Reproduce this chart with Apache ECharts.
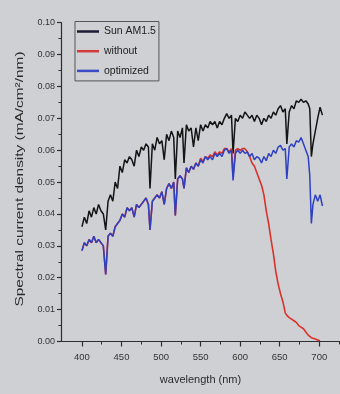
<!DOCTYPE html>
<html>
<head>
<meta charset="utf-8">
<script src="https://cdn.jsdelivr.net/npm/echarts@6/dist/echarts.min.js"></script>
<style>
html,body{margin:0;padding:0;background:#cfd0d3;}
#c{width:340px;height:394px;}
</style>
</head>
<body>
<div id="c"></div>
<script>
// wavelength (nm)
var wavelength = [400,403,406,409,412,415,418,421,424,427,430,433,436,439,442,445,448,451,454,457,460,463,466,469,472,475,478,481,484,486,489,492,495,498,501,504,507,510,513,516,518,521,524,527,529,532,535,538,541,544,547,550,553,556,559,562,565,568,571,574,577,580,583,586,589,591,594,597,600,603,606,609,612,615,618,621,624,627,630,633,636,639,642,645,648,651,654,657,659,662,665,668,671,674,677,680,683,686,688,690,692,695,698,701,704];

var sunAM15 = [0.036,0.039,0.037,0.041,0.039,0.042,0.040,0.043,0.041,0.040,0.035,0.044,0.046,0.044,0.050,0.048,0.055,0.053,0.057,0.056,0.058,0.057,0.055,0.060,0.058,0.061,0.060,0.062,0.061,0.048,0.062,0.060,0.064,0.062,0.063,0.057,0.065,0.063,0.066,0.064,0.051,0.066,0.064,0.067,0.056,0.068,0.066,0.067,0.061,0.067,0.063,0.068,0.066,0.068,0.067,0.069,0.068,0.069,0.067,0.069,0.068,0.070,0.0715,0.070,0.071,0.059,0.070,0.069,0.071,0.070,0.072,0.071,0.070,0.071,0.069,0.071,0.070,0.068,0.070,0.069,0.071,0.070,0.072,0.071,0.073,0.074,0.072,0.073,0.062,0.072,0.074,0.073,0.0755,0.075,0.076,0.075,0.0755,0.0745,0.073,0.058,0.062,0.066,0.070,0.0735,0.071];

var withoutVals = [0.0285,0.031,0.030,0.032,0.031,0.033,0.031,0.032,0.031,0.030,0.021,0.033,0.034,0.033,0.036,0.037,0.038,0.040,0.039,0.042,0.041,0.042,0.039,0.043,0.042,0.043,0.044,0.045,0.043,0.035,0.044,0.045,0.046,0.045,0.047,0.043,0.048,0.0495,0.048,0.050,0.0395,0.051,0.052,0.051,0.048,0.0545,0.053,0.055,0.054,0.056,0.055,0.0575,0.0565,0.058,0.0575,0.0585,0.058,0.0595,0.0585,0.0595,0.059,0.0605,0.0605,0.0595,0.0605,0.052,0.060,0.0605,0.060,0.0605,0.0605,0.0595,0.058,0.056,0.055,0.053,0.051,0.049,0.046,0.041,0.037,0.032,0.0275,0.022,0.018,0.015,0.0125,0.009,0.0082,0.0075,0.007,0.0065,0.006,0.005,0.0045,0.004,0.003,0.002,0.0014,0.0012,0.001,0.0008,0.0005,0.0002,null];

var optimizedVals = [0.0285,0.031,0.030,0.032,0.031,0.033,0.031,0.032,0.031,0.030,0.021,0.033,0.034,0.033,0.036,0.037,0.038,0.040,0.039,0.042,0.041,0.042,0.039,0.043,0.042,0.043,0.044,0.045,0.043,0.035,0.044,0.045,0.046,0.045,0.047,0.043,0.048,0.0495,0.048,0.050,0.0395,0.051,0.052,0.051,0.048,0.0545,0.053,0.055,0.054,0.056,0.055,0.057,0.056,0.058,0.057,0.058,0.057,0.059,0.058,0.059,0.058,0.060,0.0605,0.059,0.060,0.0505,0.059,0.060,0.059,0.060,0.059,0.0595,0.058,0.059,0.057,0.058,0.0575,0.056,0.058,0.0567,0.059,0.058,0.060,0.059,0.061,0.0615,0.060,0.0605,0.051,0.061,0.062,0.061,0.063,0.0625,0.064,0.062,0.060,0.058,0.052,0.037,0.043,0.046,0.044,0.046,0.0425];

var xTicks = [400,450,500,550,600,650,700];
var xMinorTicks = [425,475,525,575,625,675,725];
var yTicks = [0,0.01,0.02,0.03,0.04,0.05,0.06,0.07,0.08,0.09,0.10];

function pairs(ys){ return wavelength.map(function(w,i){ return [w, ys[i]]; }); }

var chart = echarts.init(document.getElementById('c'), null, {renderer:'canvas'});
var FONT = '"Liberation Sans", Arial, sans-serif';
var axisColor = '#2e2e2e';
var gridLeft = 61;
var xMin = 373.5, xMax = 726.2;

chart.setOption({
  animation: false,
  backgroundColor: '#cfd0d3',
  textStyle: {fontFamily: FONT},
  grid: {left: gridLeft, right: 0, top: 22.7, bottom: 52.5, containLabel: false},
  legend: {
    orient: 'vertical', left: 75, top: 21.5,
    padding: [4, 3, 4, 2],
    itemGap: 7.7, itemWidth: 22, itemHeight: 2.5,
    icon: 'rect',
    borderColor: '#555', borderWidth: 1,
    textStyle: {fontSize: 10.5, color: '#222', lineHeight: 12, fontFamily: FONT},
    data: ['Sun AM1.5', 'without', 'optimized']
  },
  xAxis: [{
    type: 'value', min: xMin, max: xMax,
    name: 'wavelength (nm)', nameLocation: 'middle', nameGap: 33,
    nameTextStyle: {fontSize: 11, color: '#2a2a2a', fontFamily: FONT},
    axisLine: {show: true, onZero: false, lineStyle: {color: axisColor, width: 1.2}},
    axisTick: {show: true, customValues: xTicks, length: 5, inside: false, lineStyle: {color: axisColor, width: 1.2}},
    axisLabel: {customValues: xTicks, fontSize: 9.5, color: '#333', margin: 11, fontFamily: FONT},
    splitLine: {show: false}
  }, {
    type: 'value', min: xMin, max: xMax, position: 'bottom',
    axisLine: {show: false},
    axisTick: {show: true, customValues: xMinorTicks, length: 3, lineStyle: {color: axisColor, width: 1}},
    axisLabel: {show: false},
    splitLine: {show: false}
  }],
  yAxis: {
    type: 'value', min: 0, max: 0.10, interval: 0.01,
    axisLine: {show: true, onZero: false, lineStyle: {color: axisColor, width: 1.2}},
    axisTick: {show: true, length: 4, lineStyle: {color: axisColor, width: 1.2}},
    minorTick: {show: true, splitNumber: 2, length: 2.5, lineStyle: {color: axisColor, width: 1}},
    axisLabel: {fontSize: 9, color: '#333', margin: 6, fontFamily: FONT,
      formatter: function(v){ return v.toFixed(2); }},
    splitLine: {show: false}
  },
  graphic: [{
    type: 'text', x: 20, y: 179, rotation: Math.PI / 2, scaleX: 1.4,
    style: {text: 'Spectral current density (mA/cm\u00B2/nm)', fontSize: 11, fontFamily: FONT,
      fill: '#2a2a2a', align: 'center', verticalAlign: 'middle'}
  }],
  series: [{
    name: 'Sun AM1.5', type: 'line', showSymbol: false, symbol: 'none',
    data: pairs(sunAM15), lineStyle: {color: '#141414', width: 1.5}, itemStyle: {color: '#1c1c34'}
  }, {
    name: 'without', type: 'line', showSymbol: false, symbol: 'none',
    data: pairs(withoutVals), lineStyle: {color: '#d8322a', width: 1.6}, itemStyle: {color: '#d23c3c'}
  }, {
    name: 'optimized', type: 'line', showSymbol: false, symbol: 'none',
    data: pairs(optimizedVals), lineStyle: {color: '#2d40c2', width: 1.5}, itemStyle: {color: '#3c4cc4'}
  }]
});
</script>
</body>
</html>
